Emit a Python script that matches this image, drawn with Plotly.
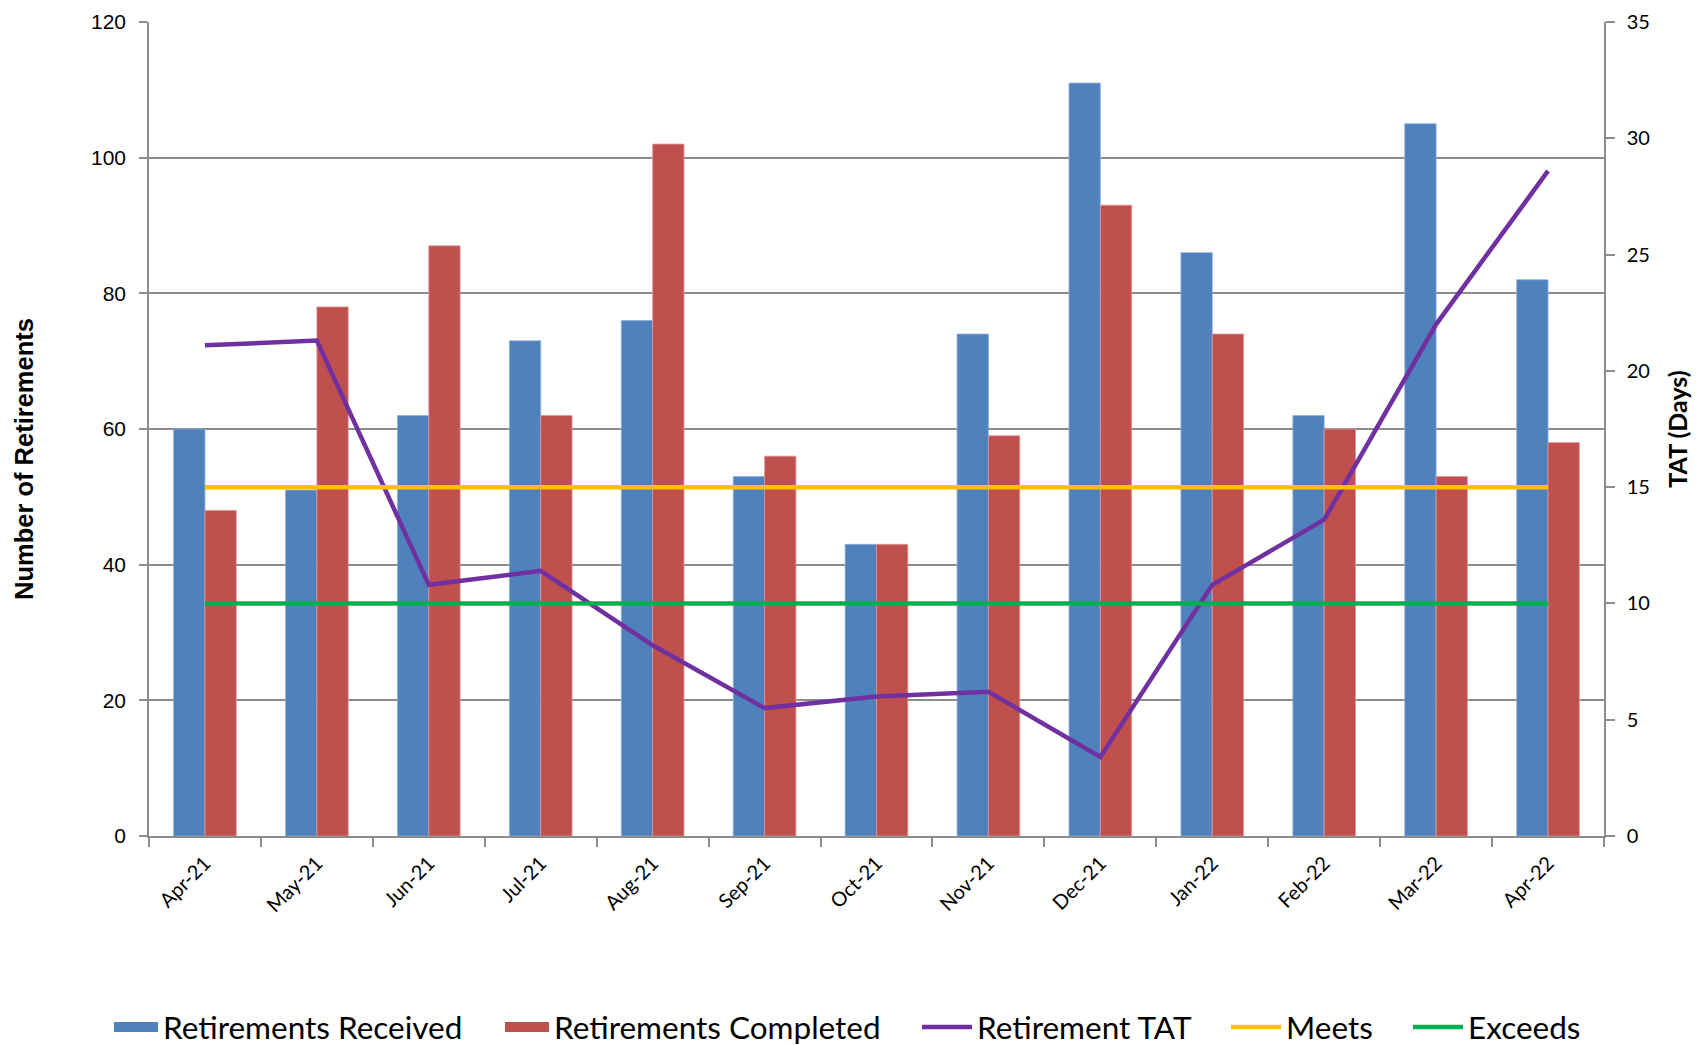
import plotly.graph_objects as go

months = ["Apr-21", "May-21", "Jun-21", "Jul-21", "Aug-21", "Sep-21", "Oct-21",
          "Nov-21", "Dec-21", "Jan-22", "Feb-22", "Mar-22", "Apr-22"]
received = [60, 51, 62, 73, 76, 53, 43, 74, 111, 86, 62, 105, 82]
completed = [48, 78, 87, 62, 102, 56, 43, 59, 93, 74, 60, 53, 58]
tat_days = [21.1, 21.3, 10.8, 11.4, 8.2, 5.5, 6.0, 6.2, 3.4, 10.8, 13.6, 22.0, 28.6]
meets = [15, 15, 15, 15, 15, 15, 15, 15, 15, 15, 15, 15, 15]
exceeds = [10, 10, 10, 10, 10, 10, 10, 10, 10, 10, 10, 10, 10]
left_ticks = [0, 20, 40, 60, 80, 100, 120]
right_ticks = [0, 5, 10, 15, 20, 25, 30, 35]

CAL = "Lato"
ARIAL = "Liberation Sans"
GRID = "#8C8C8C"
BLUE, RED, PURPLE, YELLOW, GREEN = "#4F81BD", "#C0504D", "#7030A0", "#FFC000", "#00B050"

# page body has an 8px margin, so the figure is 8px smaller than the window
W, H = 1696, 1037
ML, MR, MT, MB = 141, 100, 14, 209
PW, PH = W - ML - MR, H - MT - MB

fig = go.Figure()
fig.add_trace(go.Bar(x=months, y=received, name="Retirements Received", showlegend=False,
                     marker=dict(color=BLUE, line=dict(color="#8EAEDA", width=0.8))))
fig.add_trace(go.Bar(x=months, y=completed, name="Retirements Completed", showlegend=False,
                     marker=dict(color=RED, line=dict(color="#DC9997", width=0.8))))
fig.add_trace(go.Scatter(x=months, y=tat_days, name="Retirement TAT", yaxis="y2",
                         mode="lines", line=dict(color=PURPLE, width=4.5), legend="legend3"))
fig.add_trace(go.Scatter(x=months, y=meets, name="Meets", yaxis="y2",
                         mode="lines", line=dict(color=YELLOW, width=4.5), legend="legend4"))
fig.add_trace(go.Scatter(x=months, y=exceeds, name="Exceeds", yaxis="y2",
                         mode="lines", line=dict(color=GREEN, width=4.5), legend="legend5"))
# legend-only swatches for the bar series (wide rectangles as in the original)
fig.add_trace(go.Scatter(x=[None], y=[None], name="Retirements Received", mode="lines",
                         line=dict(color=BLUE, width=25), legend="legend"))
fig.add_trace(go.Scatter(x=[None], y=[None], name="Retirements Completed", mode="lines",
                         line=dict(color=RED, width=25), legend="legend2"))

legend_font = dict(family=CAL, size=31.5, color="#000")
ly = 0.0174


def leg(xpx, iw):
    return dict(orientation="h", xref="container", yref="container",
                x=xpx / W, xanchor="left", y=ly, yanchor="middle",
                font=legend_font, itemwidth=iw, bgcolor="rgba(0,0,0,0)")


fig.update_layout(
    width=W, height=H,
    margin=dict(l=ML, r=MR, t=MT, b=MB, autoexpand=False),
    paper_bgcolor="white", plot_bgcolor="white",
    barmode="group", bargap=0.44, bargroupgap=0,
    font=dict(family=CAL, color="#000000", size=18),
    xaxis=dict(
        type="category", tickson="boundaries", ticks="outside", ticklen=9,
        tickcolor=GRID, tickwidth=1.5, showline=True, linecolor=GRID, linewidth=1.5,
        tickangle=-45, tickfont=dict(family=CAL, size=20, color="#000"),
        ticklabelstandoff=6, showgrid=False, range=[-0.5, 12.5], automargin=False,
    ),
    yaxis=dict(
        range=[0, 120], tickvals=left_ticks, ticks="outside", ticklen=8,
        tickcolor=GRID, tickwidth=1.5, showline=True, linecolor=GRID, linewidth=1.5,
        showgrid=True, gridcolor=GRID, gridwidth=1.5, zeroline=False,
        tickfont=dict(family=ARIAL, size=21, color="#000"),
        ticklabelstandoff=9, automargin=False, ticklabeloverflow="allow",
    ),
    yaxis2=dict(
        range=[0, 35], tickvals=right_ticks, overlaying="y", side="right",
        ticks="outside", ticklen=9, tickcolor=GRID, tickwidth=1.5,
        showline=True, linecolor=GRID, linewidth=1.5, showgrid=False, zeroline=False,
        tickfont=dict(family=CAL, size=20, color="#000"),
        ticklabelstandoff=8, automargin=False, ticklabeloverflow="allow",
        title=dict(text="<b>TAT (Days)</b>", standoff=21,
                   font=dict(family=CAL, size=25, color="#000")),
    ),
    legend=leg(101, 44),
    legend2=leg(492, 44),
    legend3=leg(909, 50),
    legend4=leg(1218, 50),
    legend5=leg(1400, 50),
    showlegend=True,
)

# left axis title, placed where the original has it (slightly below centre)
fig.add_annotation(text="<b>Number of Retirements</b>", textangle=-90,
                   xref="paper", yref="paper",
                   x=(16 - ML) / PW, y=(MT + PH - 451) / PH,
                   xanchor="center", yanchor="middle", showarrow=False,
                   font=dict(family=ARIAL, size=25.5, color="#000"))

fig.add_shape(type="line", xref="paper", yref="paper",
              x0=(1693 - ML) / PW, x1=(1693 - ML) / PW,
              y0=-MB / PH, y1=1 + MT / PH,
              line=dict(color="#A6A6A6", width=3))

fig.write_html("out.html")
